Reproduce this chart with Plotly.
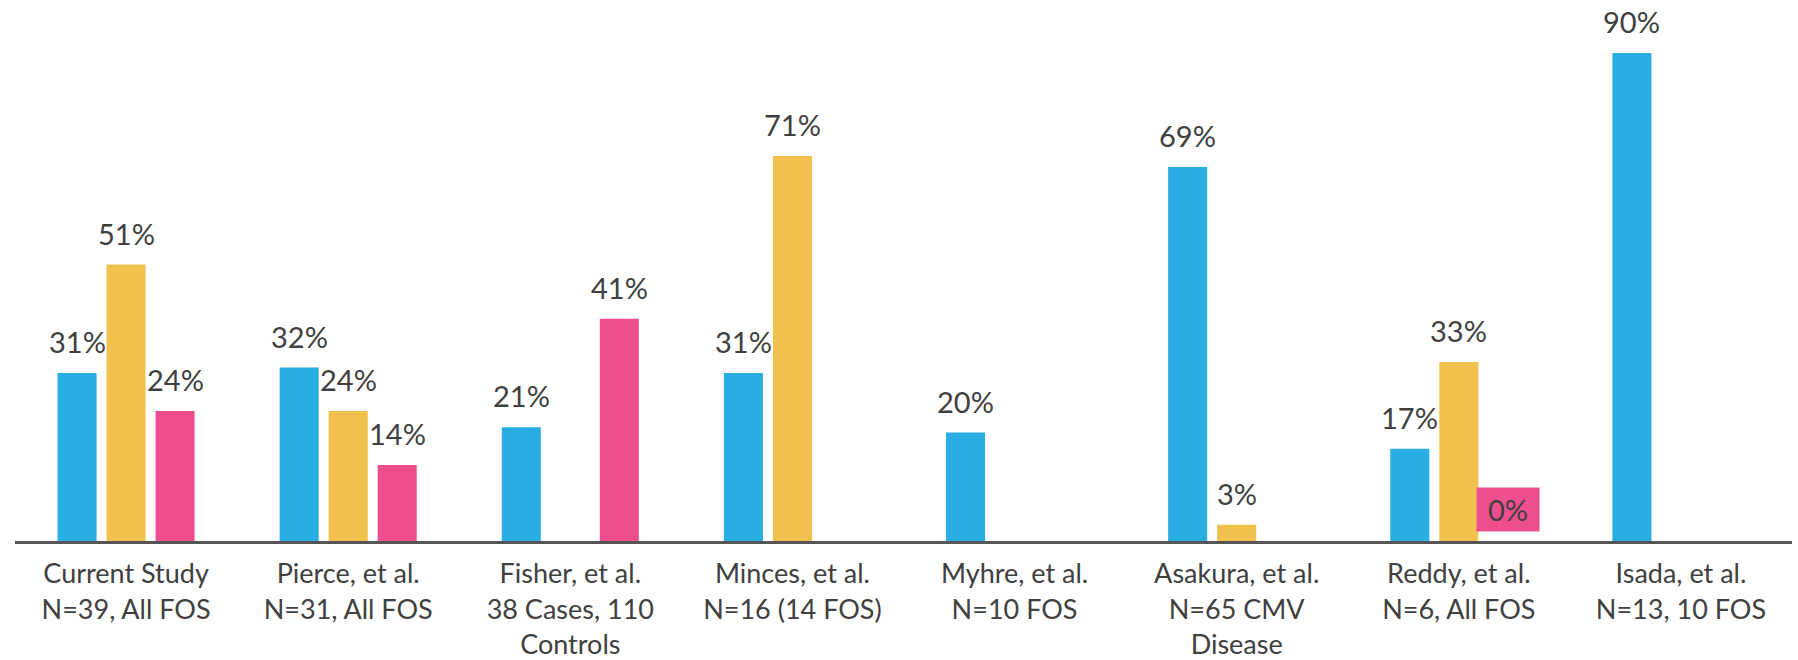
import plotly.graph_objects as go

# Studies along the x axis
studies = [
    "Current Study<br>N=39, All FOS",
    "Pierce, et al.<br>N=31, All FOS",
    "Fisher, et al.<br>38 Cases, 110<br>Controls",
    "Minces, et al.<br>N=16 (14 FOS)",
    "Myhre, et al.<br>N=10 FOS",
    "Asakura, et al.<br>N=65 CMV<br>Disease",
    "Reddy, et al.<br>N=6, All FOS",
    "Isada, et al.<br>N=13, 10 FOS",
]

# Percentages per series (None = not reported)
blue_vals = [31, 32, 21, 31, 20, 69, 17, 90]
yellow_vals = [51, 24, None, 71, None, 3, 33, None]
pink_vals = [24, 14, 41, None, None, None, 0, None]

series = [
    ("Series 1", blue_vals, "#29ADE3"),
    ("Series 2", yellow_vals, "#F1C04D"),
    ("Series 3", pink_vals, "#EE4E8E"),
]

BARGAP = 0.338
BARGROUPGAP = 0.204
LABEL_FONT = "Lato, 'Open Sans', sans-serif"
TICK_FONT = "Lato, 'Open Sans', sans-serif"
TEXT_COLOR = "#404040"

xs = list(range(len(studies)))

fig = go.Figure()
for name, vals, color in series:
    fig.add_trace(go.Bar(
        x=xs, y=vals, name=name,
        marker=dict(color=color, line=dict(width=0)),
    ))

# Value labels above each bar, offset to the bar's slot in its group
slot = (1 - BARGAP) / len(series)
annotations = []
for k, (name, vals, color) in enumerate(series):
    offset = (k - (len(series) - 1) / 2) * slot
    for i, v in enumerate(vals):
        if v is None:
            continue
        ann = dict(
            x=i + offset, y=v, xref="x", yref="y",
            text=f"{v}%", showarrow=False,
            xanchor="center", yanchor="bottom", yshift=9,
            font=dict(family=LABEL_FONT, size=29, color=TEXT_COLOR),
            borderpad=4,
        )
        if v == 0:
            ann["bgcolor"] = color
            ann["width"] = 54
        annotations.append(ann)

fig.update_layout(
    width=1798, height=660,
    margin=dict(l=15, r=6, t=26, b=119),
    paper_bgcolor="white", plot_bgcolor="white",
    barmode="group", bargap=BARGAP, bargroupgap=BARGROUPGAP,
    showlegend=False,
    annotations=annotations,
    xaxis=dict(
        range=[-0.5, len(studies) - 0.5],
        tickvals=xs, ticktext=studies,
        showgrid=False, zeroline=False, automargin=False,
        showline=True, linecolor="#555555", linewidth=3,
        ticks="", ticklabelstandoff=7,
        tickfont=dict(family=TICK_FONT, size=27, color=TEXT_COLOR),
    ),
    yaxis=dict(
        range=[0, 95], visible=False, showgrid=False, zeroline=False,
        automargin=False,
    ),
)

fig.write_html("out.html")
